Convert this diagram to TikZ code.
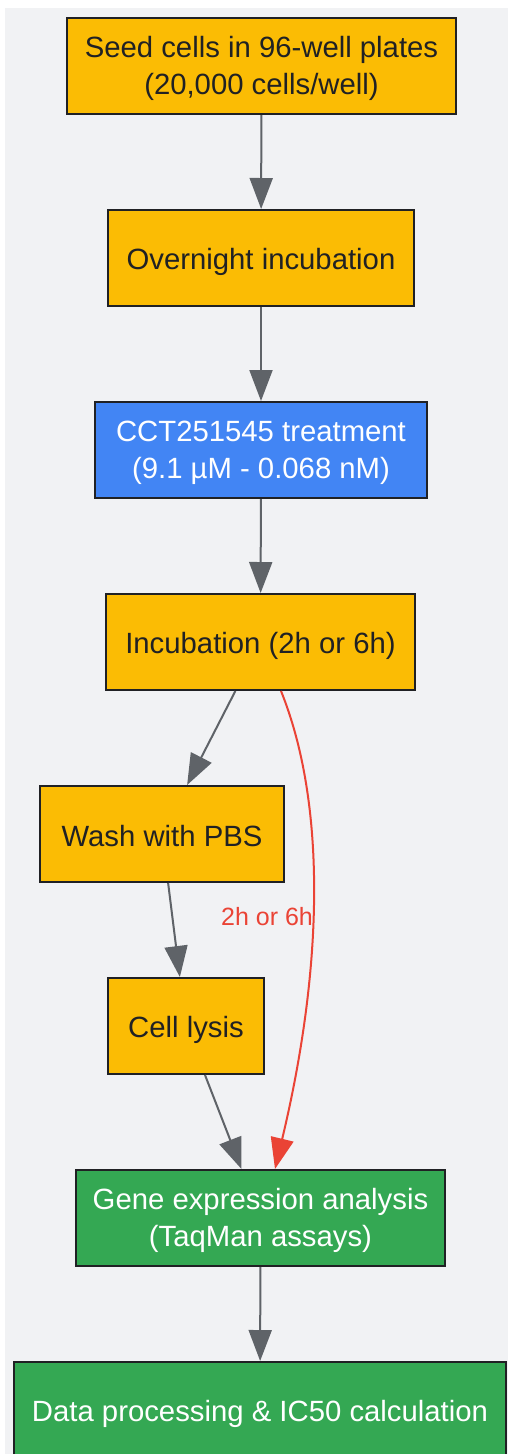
\documentclass[tikz,border=0pt]{standalone}
\usepackage{fontspec}
\setmainfont{Liberation Sans}
\usetikzlibrary{arrows.meta}
\definecolor{bg}{HTML}{F1F2F4}
\definecolor{ylw}{HTML}{FBBC04}
\definecolor{blu}{HTML}{4285F4}
\definecolor{grn}{HTML}{34A853}
\definecolor{edge}{HTML}{5F6368}
\definecolor{bord}{HTML}{202124}
\definecolor{redc}{HTML}{EA4335}
\newcommand{\tstrut}{\rule[-6pt]{0pt}{33pt}}
\tikzset{
  box/.style={draw=bord, line width=2pt, rectangle, inner sep=0pt, align=center,
    font=\fontsize{29.3}{37}\selectfont, minimum height=96pt,
    execute at begin node={\rule[-6pt]{0pt}{36pt}}},
  ybox/.style={box, fill=ylw, text=bord},
  bbox/.style={box, fill=blu, text=white},
  gbox/.style={box, fill=grn, text=white},
  conn/.style={draw=edge, line width=2pt, -{Triangle[length=31pt,width=23pt]}},
  rconn/.style={draw=redc, line width=2pt, -{Triangle[length=31pt,width=23pt]}},
  lbl/.style={text=redc, font=\fontsize{25}{30}\selectfont, inner sep=0pt}
}
\begin{document}
\begin{tikzpicture}[x=1pt,y=-1pt]
\useasboundingbox (0,0) rectangle (508,1454);
\fill[bg] (5,8) rectangle (508,1454);
\node[ybox, minimum width=389pt] (n1) at (261.5,66) {\tstrut Seed cells in 96-well plates\\(20,000 cells/well)};
\node[ybox, minimum width=306pt] (n2) at (261,258) {Overnight incubation};
\node[bbox, minimum width=332pt] (n3) at (261,450) {\tstrut CCT251545 treatment\\(9.1 µM - 0.068 nM)};
\node[ybox, minimum width=309pt] (n4) at (260.5,642) {Incubation (2h or 6h)};
\node[ybox, minimum width=244pt] (n5) at (162,834) {Wash with PBS};
\node[ybox, minimum width=156pt] (n6) at (186,1026) {Cell lysis};
\node[gbox, minimum width=369pt] (n7) at (260.5,1218) {\tstrut Gene expression analysis\\(TaqMan assays)};
\node[gbox, minimum width=492pt] (n8) at (260,1410) {Data processing \& IC50 calculation};
\draw[conn] (n1) -- (n2);
\draw[conn] (n2) -- (n3);
\draw[conn] (n3) -- (n4);
\draw[conn] (n4) -- (n5);
\draw[conn] (n5) -- (n6);
\draw[conn] (n6) -- (n7);
\draw[conn] (n7) -- (n8);
\coordinate (rs) at ([xshift=20.5pt]n4.south);
\coordinate (re) at ([xshift=14.5pt]n7.north);
\draw[rconn] (rs) .. controls (325,800) and (325,960) .. (re);
\node[lbl] (l1) at (267,917) {2h or 6h};
\end{tikzpicture}
\end{document}
